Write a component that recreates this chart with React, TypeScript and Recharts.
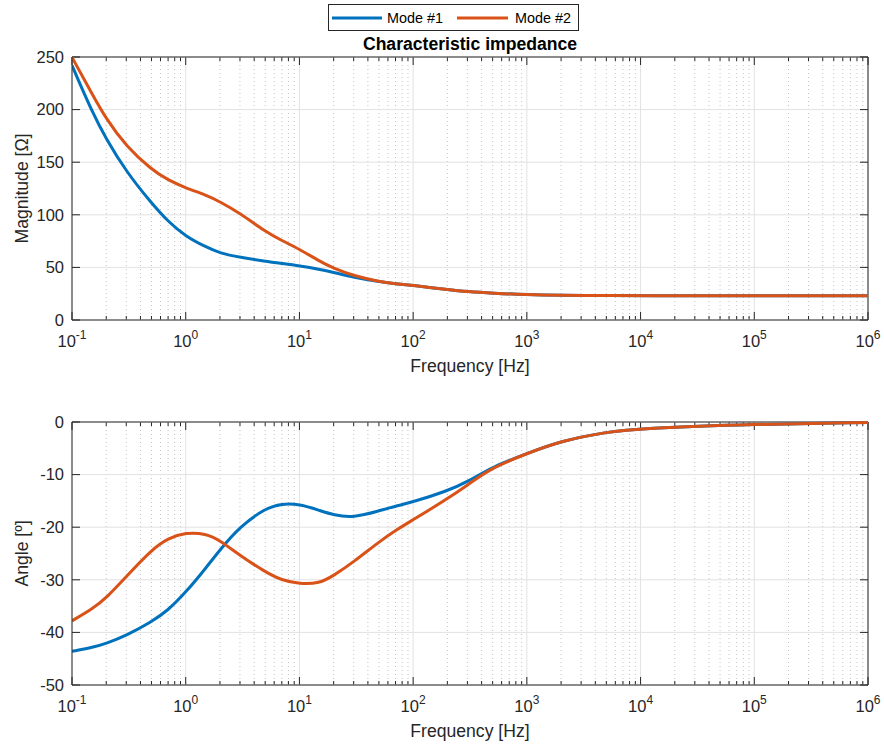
import React from 'react';
import { LineChart, Line, XAxis, YAxis, ReferenceLine } from 'recharts';

// frequency samples [Hz] and values
const freq = [0.1, 0.15, 0.2, 0.3, 0.5, 0.7, 1, 1.5, 2, 3, 5, 7, 10, 15, 20, 30, 50, 70, 100, 200, 300, 500, 1000, 2000, 5000, 1e4, 1e5, 1e6];
const magMode1 = [242, 198, 172, 141, 111, 93.5, 79.5, 69.5, 63.5, 59.6, 55.8, 53.7, 51.5, 48.3, 45.3, 40.4, 36.4, 34.5, 32.8, 29, 27, 25.5, 24, 23.5, 23.2, 23, 23, 23];
const magMode2 = [249.7, 215, 191, 165, 143, 133, 125.5, 118.8, 112.5, 101.5, 84, 75.5, 67.3, 56, 49, 42, 36.6, 34.5, 32.8, 29, 27, 25.5, 24, 23.5, 23.2, 23, 23, 23];
const angMode1 = [-43.6, -42.9, -42.1, -40.6, -38.0, -35.8, -32.4, -27.8, -24.3, -19.9, -16.4, -15.5, -15.6, -16.8, -17.7, -18.2, -16.9, -16.0, -15.2, -13.1, -11.4, -8.5, -6.0, -3.6, -1.9, -1.2, -0.4, -0.1];
const angMode2 = [-37.8, -35.6, -33.5, -29.4, -24.3, -22.1, -21.0, -21.2, -22.5, -25.4, -28.5, -30.1, -30.8, -30.7, -29.2, -26.6, -22.8, -20.6, -18.6, -14.6, -12.0, -8.6, -6.0, -3.6, -1.9, -1.2, -0.4, -0.1];

const decadeTicks = [0.1, 1, 10, 100, 1e3, 1e4, 1e5, 1e6];
const magTicks = [0, 50, 100, 150, 200, 250];
const angTicks = [-50, -40, -30, -20, -10, 0];

const minorTicks: number[] = [];
decadeTicks.slice(0, -1).forEach((d) => {
    for (let k = 2; k <= 9; k++) minorTicks.push(d * k);
});

const magData = freq.map((f, i) => ({ f, m1: magMode1[i], m2: magMode2[i] }));
const angData = freq.map((f, i) => ({ f, a1: angMode1[i], a2: angMode2[i] }));

const BLUE = '#0072BD';
const ORANGE = '#D95319';
const INK = '#262626';
const FONT = '"Liberation Sans", Arial, Helvetica, sans-serif';

const DecadeTick = (props: any) => {
    const { x, y, payload } = props;
    const exp = Math.round(Math.log10(payload.value));
    return (
        <text x={x} y={y + 27} textAnchor="middle" fill={INK} fontSize={16.5} fontFamily={FONT}>
            10<tspan dy={-8} fontSize={12}>{exp}</tspan>
        </text>
    );
};

// dotted minor grid line with small inward ticks top and bottom
const MinorV = (p: any) => {
    const top = Math.min(p.y1, p.y2);
    const bot = Math.max(p.y1, p.y2);
    return (
        <g>
            <line x1={p.x1} x2={p.x1} y1={top} y2={bot} stroke="#c4c4c4" strokeDasharray="1 3" />
            <line x1={p.x1} x2={p.x1} y1={bot} y2={bot - 4} stroke={INK} />
            <line x1={p.x1} x2={p.x1} y1={top} y2={top + 4} stroke={INK} />
        </g>
    );
};

const MajorV = (p: any) => {
    const top = Math.min(p.y1, p.y2);
    const bot = Math.max(p.y1, p.y2);
    return (
        <g>
            <line x1={p.x1} x2={p.x1} y1={top} y2={bot} stroke="#e2e2e2" />
            <line x1={p.x1} x2={p.x1} y1={bot} y2={bot - 8} stroke={INK} />
            <line x1={p.x1} x2={p.x1} y1={top} y2={top + 8} stroke={INK} />
        </g>
    );
};

const MajorH = (p: any) => {
    const l = Math.min(p.x1, p.x2);
    const r = Math.max(p.x1, p.x2);
    return (
        <g>
            <line x1={l} x2={r} y1={p.y1} y2={p.y1} stroke="#e2e2e2" />
            <line x1={l} x2={l + 8} y1={p.y1} y2={p.y1} stroke={INK} />
            <line x1={r - 8} x2={r} y1={p.y1} y2={p.y1} stroke={INK} />
        </g>
    );
};

const gridLines = (yTicks: number[]) => [
    ...minorTicks.map((v) => <ReferenceLine key={'mi' + v} x={v} shape={MinorV} />),
    ...decadeTicks.map((v) => <ReferenceLine key={'ma' + v} x={v} shape={MajorV} />),
    ...yTicks.map((v) => <ReferenceLine key={'h' + v} y={v} shape={MajorH} />),
];

const xAxisProps = {
    dataKey: 'f',
    type: 'number' as const,
    scale: 'log' as const,
    domain: [0.1, 1e6],
    allowDataOverflow: true,
    ticks: decadeTicks,
    interval: 0,
    tick: <DecadeTick />,
    tickLine: false,
    tickSize: 0,
    tickMargin: 0,
    height: 52,
    stroke: INK,
    label: { value: 'Frequency [Hz]', position: 'insideBottom' as const, offset: 0, fill: INK, fontSize: 17.6, fontFamily: FONT },
};

const yTickStyle = { fill: INK, fontSize: 16.5, fontFamily: FONT };

export default function App() {
    return (
        <div style={{ position: 'absolute', left: 0, top: 0, width: 884, height: 745, background: '#fff', fontFamily: FONT }}>
            <svg width={884} height={60} style={{ position: 'absolute', left: 0, top: 0 }}>
                <rect x={328.5} y={4.5} width={250} height={26} fill="#fff" stroke={INK} />
                <line x1={332} x2={382} y1={18} y2={18} stroke={BLUE} strokeWidth={3} />
                <text x={387} y={23} fontSize={14.4} fill="#000" fontFamily={FONT}>Mode #1</text>
                <line x1={457} x2={508} y1={18} y2={18} stroke={ORANGE} strokeWidth={3} />
                <text x={515} y={23} fontSize={14.4} fill="#000" fontFamily={FONT}>Mode #2</text>
                <text x={470} y={50} textAnchor="middle" fontSize={17.6} fontWeight="bold" fill="#000" fontFamily={FONT}>
                    Characteristic impedance
                </text>
            </svg>
            <div style={{ position: 'absolute', left: 0, top: 0 }}>
                <LineChart width={884} height={380} data={magData} margin={{ top: 57, right: 16, bottom: 8, left: 12 }}>
                    <XAxis {...xAxisProps} />
                    <YAxis
                        domain={[0, 250]}
                        ticks={magTicks}
                        interval={0}
                        width={60}
                        tickLine={false}
                        tickSize={0}
                        tickMargin={8}
                        stroke={INK}
                        tick={yTickStyle}
                        label={{ value: 'Magnitude [Ω]', angle: -90, position: 'insideLeft', offset: 10, fill: INK, fontSize: 17.6, fontFamily: FONT, style: { textAnchor: 'middle' } }}
                    />
                    {gridLines(magTicks)}
                    <ReferenceLine x={1e6} stroke={INK} />
                    <ReferenceLine y={250} stroke={INK} />
                    <Line type="basis" dataKey="m1" name="Mode #1" stroke={BLUE} strokeWidth={3} dot={false} isAnimationActive={false} />
                    <Line type="basis" dataKey="m2" name="Mode #2" stroke={ORANGE} strokeWidth={3} dot={false} isAnimationActive={false} />
                </LineChart>
            </div>
            <div style={{ position: 'absolute', left: 0, top: 380 }}>
                <LineChart width={884} height={365} data={angData} margin={{ top: 42, right: 16, bottom: 8, left: 12 }}>
                    <XAxis {...xAxisProps} />
                    <YAxis
                        domain={[-50, 0]}
                        ticks={angTicks}
                        interval={0}
                        width={60}
                        tickLine={false}
                        tickSize={0}
                        tickMargin={8}
                        stroke={INK}
                        tick={yTickStyle}
                        label={{ value: 'Angle [º]', angle: -90, position: 'insideLeft', offset: 10, fill: INK, fontSize: 17.6, fontFamily: FONT, style: { textAnchor: 'middle' } }}
                    />
                    {gridLines(angTicks)}
                    <ReferenceLine x={1e6} stroke={INK} />
                    <ReferenceLine y={0} stroke={INK} />
                    <Line type="basis" dataKey="a1" name="Mode #1" stroke={BLUE} strokeWidth={3} dot={false} isAnimationActive={false} />
                    <Line type="basis" dataKey="a2" name="Mode #2" stroke={ORANGE} strokeWidth={3} dot={false} isAnimationActive={false} />
                </LineChart>
            </div>
        </div>
    );
}
